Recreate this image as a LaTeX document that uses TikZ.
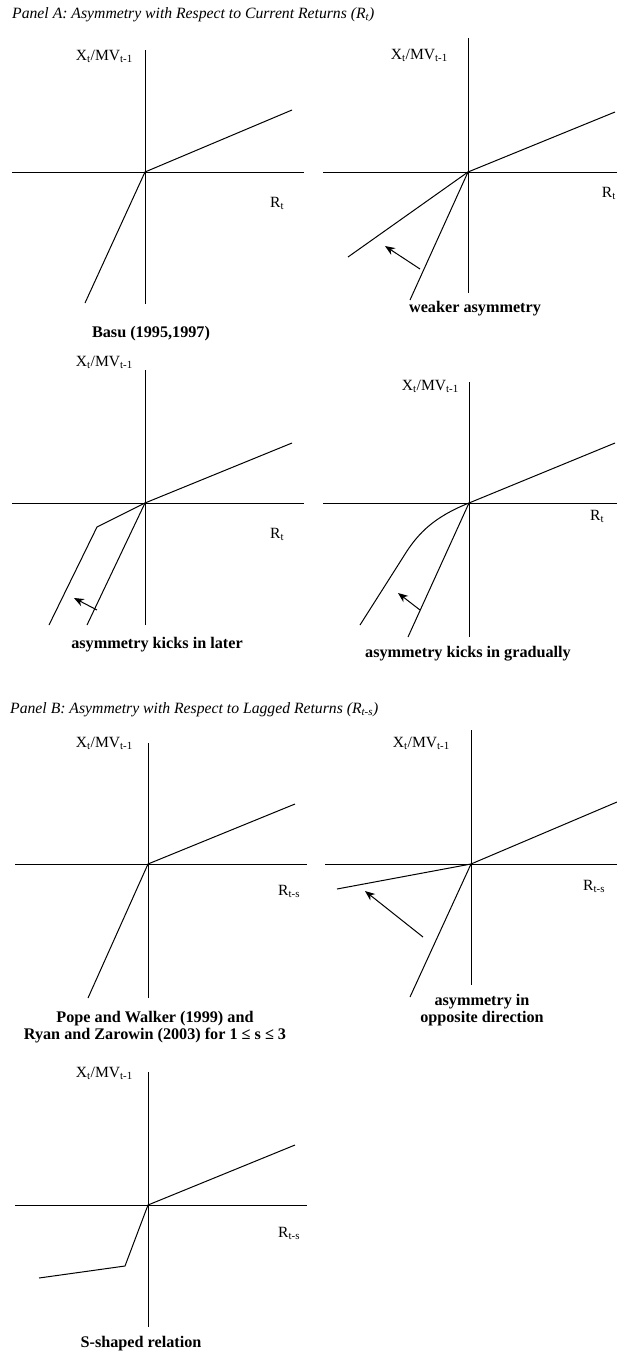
\documentclass[tikz,border=0pt]{standalone}
\usepackage{fontspec}
\setmainfont{Liberation Serif}
\usetikzlibrary{arrows.meta}

\begin{document}
\begin{tikzpicture}[
  x=1pt,
  y=-1pt,
  axisline/.style={draw=black,line width=1pt},
  relline/.style={draw=black,line width=1pt,line join=round},
  shiftarrow/.style={draw=black,line width=1pt,
    -{Stealth[length=10pt,width=8pt]}},
  axlabel/.style={inner sep=0pt,font=\fontsize{15.6}{18}\selectfont},
  caption/.style={inner sep=0pt,align=center,
    font=\fontsize{16.2}{17}\selectfont\bfseries},
  paneltitle/.style={inner sep=0pt,anchor=base west,
    font=\fontsize{15.7}{18}\selectfont\itshape}
]
  \useasboundingbox (0,0) rectangle (617,1355);

  % Panel A: current returns.
  \node[paneltitle] (pa) at (12,18)
    {Panel A: Asymmetry with Respect to Current Returns (R\textsubscript{t})};

  % (1) Basu.
  \begin{scope}[shift={(145,172)}]
    \draw[axisline] (0,-122) -- (0,132);
    \draw[axisline] (-133,0) -- (159,0);
    \draw[relline] (-60,131) -- (0,0) -- (147,-62);
    \node[axlabel,anchor=base east] (ya1) at (-12,-112)
      {X\textsubscript{t}/MV\textsubscript{t-1}};
    \node[axlabel,anchor=base west] (xa1) at (125,35) {R\textsubscript{t}};
    \node[caption,anchor=base] (ca1) at (6,165) {Basu (1995,1997)};
  \end{scope}

  % (2) Weaker asymmetry.
  \begin{scope}[shift={(468,172)}]
    \draw[axisline] (0,-134) -- (0,121);
    \draw[axisline] (-145,0) -- (149,0);
    \draw[relline] (-58,128) -- (0,0) -- (147,-60);
    \draw[relline] (-120,85) -- (0,0);
    \draw[shiftarrow] (-48,97) -- (-83,74);
    \node[axlabel,anchor=base east] (ya2) at (-20,-113)
      {X\textsubscript{t}/MV\textsubscript{t-1}};
    \node[axlabel,anchor=base east] (xa2) at (148,25) {R\textsubscript{t}};
    \node[caption,anchor=base] (ca2) at (7,140) {weaker asymmetry};
  \end{scope}

  % (3) Asymmetry kicks in later.
  \begin{scope}[shift={(145,503)}]
    \draw[axisline] (0,-133) -- (0,122);
    \draw[axisline] (-133,0) -- (159,0);
    \draw[relline] (-58,122) -- (0,0) -- (147,-60);
    \draw[relline] (0,0) -- (-48,24) -- (-96,122);
    \draw[shiftarrow] (-48,107) -- (-71,95);
    \node[axlabel,anchor=base east] (ya3) at (-12,-137)
      {X\textsubscript{t}/MV\textsubscript{t-1}};
    \node[axlabel,anchor=base west] (xa3) at (125,35) {R\textsubscript{t}};
    \node[caption,anchor=base] (ca3) at (12,145) {asymmetry kicks in later};
  \end{scope}

  % (4) Asymmetry kicks in gradually.
  \begin{scope}[shift={(469,503)}]
    \draw[axisline] (0,-121) -- (0,134);
    \draw[axisline] (-146,0) -- (148,0);
    \draw[relline] (-61,134) -- (0,0) -- (146,-60);
    \draw[relline] (0,0) .. controls (-35,14) and (-50,30) .. (-62,48)
      -- (-109,122);
    \draw[shiftarrow] (-49,107) -- (-71,90);
    \node[axlabel,anchor=base east] (ya4) at (-10,-113)
      {X\textsubscript{t}/MV\textsubscript{t-1}};
    \node[axlabel,anchor=base west] (xa4) at (121,17) {R\textsubscript{t}};
    \node[caption,anchor=base] (ca4) at (-1,154)
      {asymmetry kicks in gradually};
  \end{scope}

  % Panel B: lagged returns.
  \node[paneltitle] (pb) at (10,713)
    {Panel B: Asymmetry with Respect to Lagged Returns (R\textsubscript{t-s})};

  % (5) Pope and Walker, Ryan and Zarowin.
  \begin{scope}[shift={(148,864)}]
    \draw[axisline] (0,-121) -- (0,134);
    \draw[axisline] (-133,0) -- (159,0);
    \draw[relline] (-60,134) -- (0,0) -- (147,-60);
    \node[axlabel,anchor=base east] (yb1) at (-15,-117)
      {X\textsubscript{t}/MV\textsubscript{t-1}};
    \node[axlabel,anchor=base west] (xb1) at (130,31) {R\textsubscript{t-s}};
    \node[caption,anchor=north] (cb1) at (7,147)
      {Pope and Walker (1999) and\\Ryan and Zarowin (2003) for 1 ≤ s ≤ 3};
  \end{scope}

  % (6) Opposite direction.
  \begin{scope}[shift={(471,864)}]
    \draw[axisline] (0,-134) -- (0,121);
    \draw[axisline] (-146,0) -- (146,0);
    \draw[relline] (-61,133) -- (0,0) -- (146,-62);
    \draw[relline] (-134,25) -- (0,0);
    \draw[shiftarrow] (-48,73) -- (-106,27);
    \node[axlabel,anchor=base east] (yb2) at (-21,-117)
      {X\textsubscript{t}/MV\textsubscript{t-1}};
    \node[axlabel,anchor=base west] (xb2) at (112,26) {R\textsubscript{t-s}};
    \node[caption,anchor=north] (cb2) at (11,130)
      {asymmetry in\\opposite direction};
  \end{scope}

  % (7) S-shaped relation.
  \begin{scope}[shift={(148,1205)}]
    \draw[axisline] (0,-133) -- (0,122);
    \draw[axisline] (-133,0) -- (159,0);
    \draw[relline] (-109,73) -- (-23,61) -- (0,0) -- (147,-60);
    \node[axlabel,anchor=base east] (yb3) at (-15,-128)
      {X\textsubscript{t}/MV\textsubscript{t-1}};
    \node[axlabel,anchor=base west] (xb3) at (130,32) {R\textsubscript{t-s}};
    \node[caption,anchor=base] (cb3) at (-7,142) {S-shaped relation};
  \end{scope}
\end{tikzpicture}
\end{document}
